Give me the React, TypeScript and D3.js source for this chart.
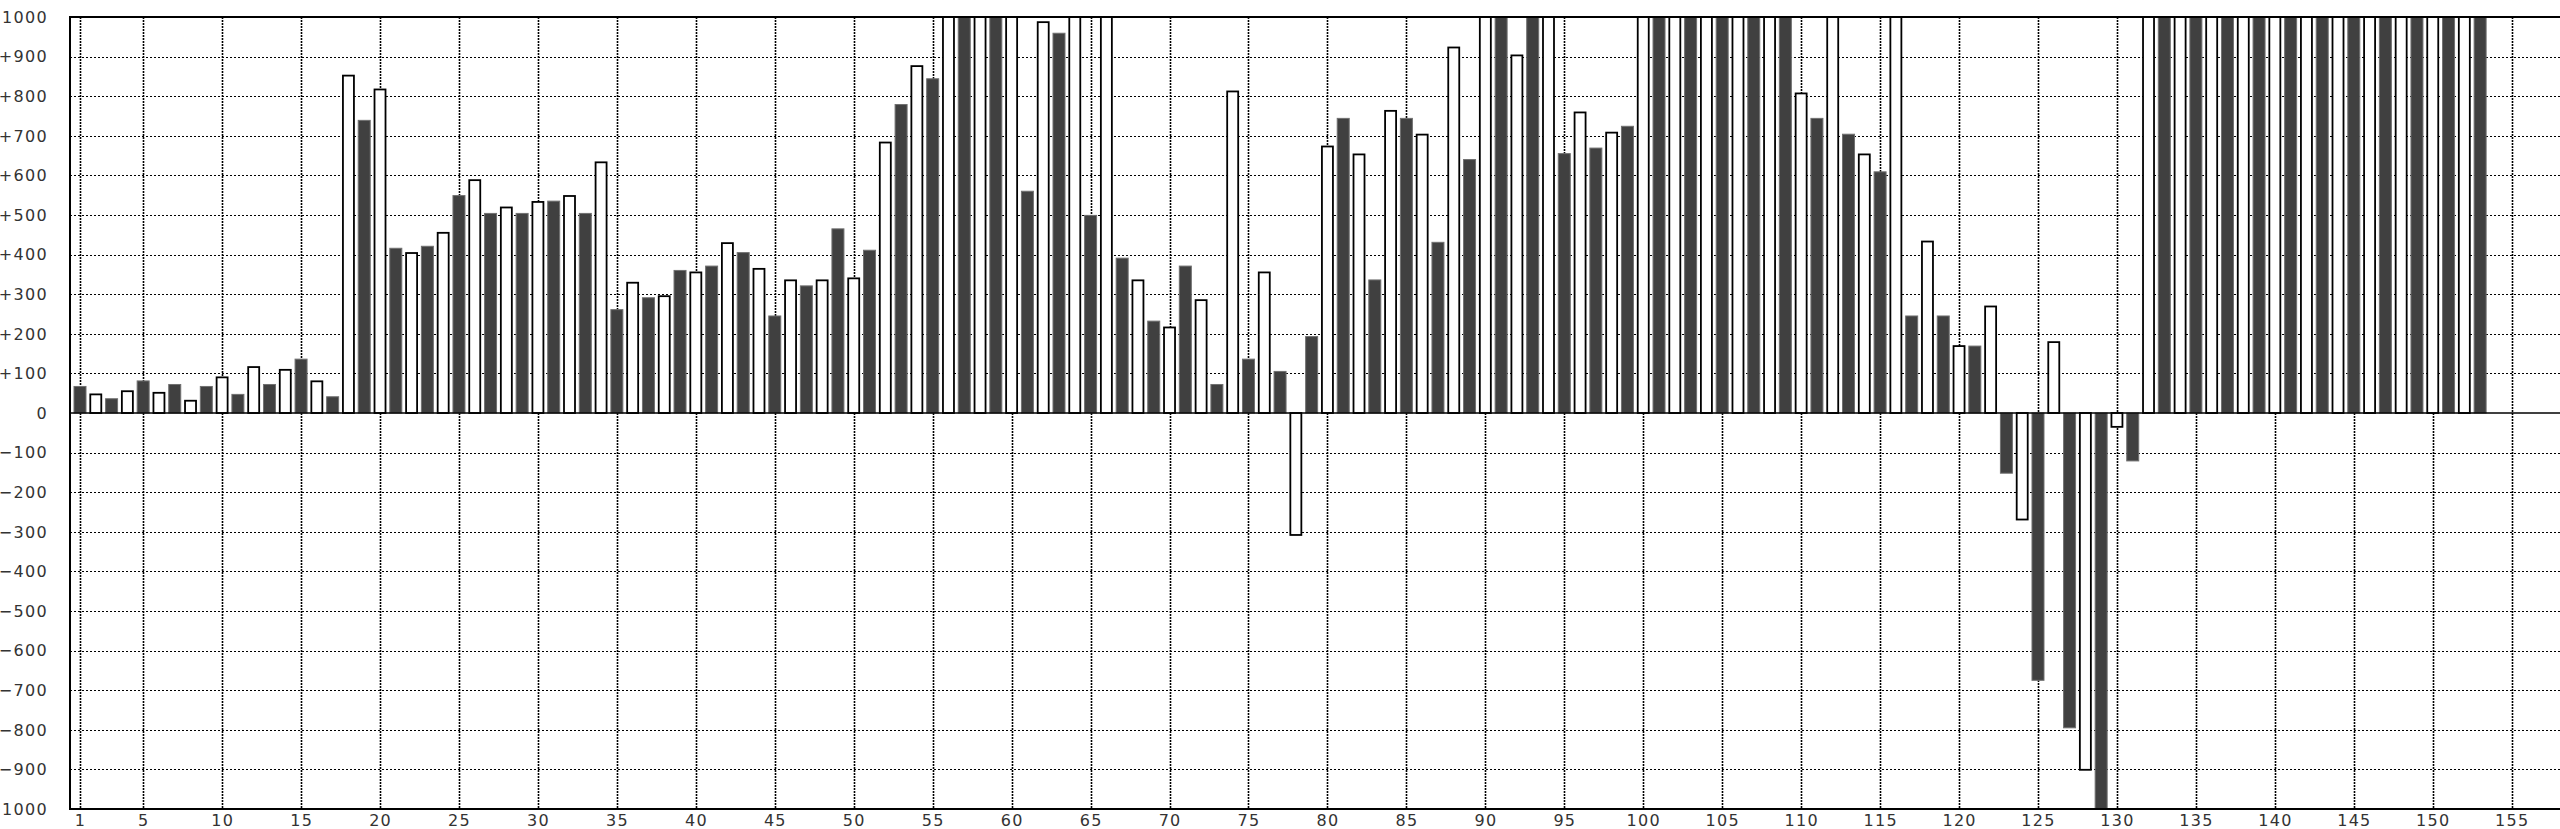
import React from "react";
import * as d3 from "d3";

// Odd-numbered bars (1, 3, 5, ... 153) drawn dark
const darkValues: number[] = [
  67, 36, 81, 72, 67, 47, 72, 136, 41, 739, 416, 421, 549, 504, 504, 535, 504, 261, 291, 360,
  371, 405, 245, 321, 465, 411, 779, 844, 1240, 1310, 560, 959, 499, 391, 232, 371, 72, 136, 105, 193,
  744, 336, 744, 431, 640, 1150, 1420, 655, 669, 724, 1260, 1380, 1190, 1330, 1270, 744, 704, 609, 245, 245,
  169, -152, -675, -795, -1080, -121, 1350, 1410, 1290, 1460, 1380, 1520, 1440, 1390, 1470, 1510, 1430,
];
// Even-numbered bars (2, 4, 6, ... 152) drawn white
const lightValues: number[] = [
  47, 55, 51, 31, 90, 116, 109, 80, 852, 817, 404, 455, 588, 519, 533, 548, 633, 329, 295, 355,
  429, 364, 335, 335, 340, 683, 876, 1180, 1290, 1220, 987, 1110, 1240, 335, 216, 285, 812, 355, -308, 673,
  653, 763, 703, 923, 1130, 903, 1210, 759, 708, 1340, 1280, 1370, 1300, 1250, 807, 1160, 653, 1090, 433, 169,
  269, -269, 179, -901, -35, 1320, 1400, 1360, 1450, 1420, 1490, 1410, 1480, 1430, 1500, 1460,
];
const yTicks: number[] = [-1000, -900, -800, -700, -600, -500, -400, -300, -200, -100, 0, 100, 200, 300, 400, 500, 600, 700, 800, 900, 1000];
const xTicks: number[] = [1, 5, 10, 15, 20, 25, 30, 35, 40, 45, 50, 55, 60, 65, 70, 75, 80, 85, 90, 95, 100, 105, 110, 115, 120, 125, 130, 135, 140, 145, 150, 155];

const W = 2560;
const H = 829;
const plotLeft = 70;
const plotTop = 17;
const plotBottom = 809;
const plotRight = 2570;

export default function App() {
  const x = d3.scaleLinear().domain([1, 155]).range([80, 2511.7]);
  const y = d3.scaleLinear().domain([-1000, 1000]).range([plotBottom, plotTop]);
  const step = x(2) - x(1);
  const bw = step * 0.76;

  const bars = [
    ...darkValues.map((v, i) => ({ pos: i * 2 + 1, v, dark: true })),
    ...lightValues.map((v, i) => ({ pos: i * 2 + 2, v, dark: false })),
  ];

  const fmt = (t: number) => (t > 0 ? "+" + t : t < 0 ? "\u2212" + Math.abs(t) : "0");

  return (
    <svg
      width={W}
      height={H}
      style={{ position: "absolute", left: 0, top: 0, display: "block", background: "#fff" }}
      fontFamily="DejaVu Sans"
    >
      <defs>
        <clipPath id="plotClip">
          <rect x={plotLeft} y={plotTop} width={plotRight - plotLeft} height={plotBottom - plotTop} />
        </clipPath>
      </defs>
      <rect x={0} y={0} width={W} height={H} fill="#fff" />
      {/* grid */}
      <g>
        {yTicks
          .filter((t) => t !== 0 && Math.abs(t) !== 1000)
          .map((t) => (
            <line
              key={"h" + t}
              x1={plotLeft}
              x2={plotRight}
              y1={Math.round(y(t)) + 0.5}
              y2={Math.round(y(t)) + 0.5}
              stroke="#000"
              strokeWidth={1}
              strokeDasharray="2,2"
            />
          ))}
        {xTicks.map((t) => (
          <line
            key={"v" + t}
            x1={Math.round(x(t)) + 0.5}
            x2={Math.round(x(t)) + 0.5}
            y1={plotTop}
            y2={plotBottom}
            stroke="#000"
            strokeWidth={1.6}
            strokeDasharray="2,1"
          />
        ))}
      </g>
      {/* bars */}
      <g clipPath="url(#plotClip)">
        {bars.map((b) => {
          const y0 = y(0);
          const y1 = y(b.v);
          const top = Math.min(y0, y1);
          const h = Math.abs(y1 - y0);
          return b.dark ? (
            <rect
              key={b.pos}
              x={x(b.pos) - bw / 2}
              y={top}
              width={bw}
              height={h}
              fill="#404040"
              stroke="#707070"
              strokeWidth={1}
            />
          ) : (
            <rect
              key={b.pos}
              x={x(b.pos) - bw / 2 + 0.5}
              y={top}
              width={bw - 1}
              height={h}
              fill="#fff"
              stroke="#000"
              strokeWidth={1.8}
            />
          );
        })}
      </g>
      {/* zero line */}
      <line x1={plotLeft} x2={plotRight} y1={y(0)} y2={y(0)} stroke="#000" strokeWidth={1.6} />
      {/* border */}
      <rect
        x={plotLeft}
        y={plotTop}
        width={plotRight - plotLeft}
        height={plotBottom - plotTop}
        fill="none"
        stroke="#000"
        strokeWidth={2}
      />
      {/* y labels */}
      {yTicks.map((t) => (
        <text
          key={"yl" + t}
          x={48}
          y={y(t)}
          dy="0.36em"
          textAnchor="end"
          fontSize={16}
          letterSpacing={1.3}
          fill="#333"
        >
          {fmt(t)}
        </text>
      ))}
      {/* x labels */}
      {xTicks.map((t) => (
        <text
          key={"xl" + t}
          x={x(t) + 0.6}
          y={826}
          textAnchor="middle"
          fontSize={16}
          letterSpacing={1.3}
          fill="#333"
        >
          {t}
        </text>
      ))}
    </svg>
  );
}
